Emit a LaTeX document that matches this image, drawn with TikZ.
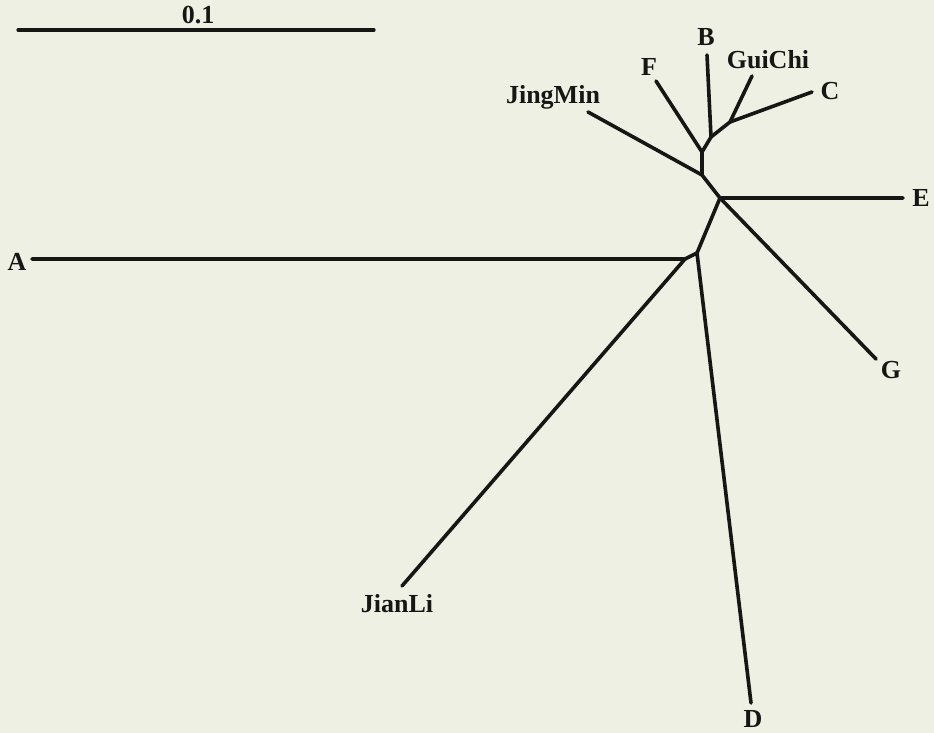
\documentclass[tikz,border=0pt]{standalone}
\usepackage{fontspec}
\setmainfont{Liberation Serif}
\usepackage{tikz}
\usepackage{xcolor}
\usetikzlibrary{calc}

\definecolor{paper}{RGB}{238,240,228}
\definecolor{ink}{RGB}{22,22,20}

\begin{document}
\begin{tikzpicture}[
    x=1pt, y=-1pt,
    branch/.style={
        draw=ink, 
        line width=3.6pt, 
        line cap=round, 
        line join=round
    },
    taxon/.style={
        text=ink, 
        inner sep=0pt, 
        font=\fontsize{26}{28}\selectfont\bfseries
    }
]

    % =========================================================
    % CANVAS
    % =========================================================
    \fill [paper] (0,0) rectangle (934,733);
    \useasboundingbox (0,0) rectangle (934,733);

    % =========================================================
    % SCALE BAR
    % =========================================================
    \coordinate (barL) at (18,30);
    \coordinate (barR) at (374,30);
    \draw [branch, line width=3.2pt] (barL) -- (barR);
    \node [taxon] (barlab) at (198,15) {0.1};

    % =========================================================
    % INTERNAL NODES
    % =========================================================
    \coordinate (nAJ) at (685,259);
    \coordinate (nD) at (697,253);
    \coordinate (nEG) at (720,198);
    \coordinate (nJM) at (702,175);
    \coordinate (nF) at (702,152);
    \coordinate (nB) at (711,137);
    \coordinate (nGC) at (730,122);

    % =========================================================
    % TIPS
    % =========================================================
    \coordinate (tA) at (32,259);
    \coordinate (tJianLi) at (402,586);
    \coordinate (tD) at (751,703);
    \coordinate (tG) at (876,359);
    \coordinate (tE) at (903,198);
    \coordinate (tJingMin) at (588,112);
    \coordinate (tF) at (656,81);
    \coordinate (tB) at (707,55);
    \coordinate (tGuiChi) at (752,76);
    \coordinate (tC) at (812,92);

    % =========================================================
    % LABELS
    % =========================================================
    \node [taxon] (labA) at (17,262) {A};
    \node [taxon] (labJianLi) at (397,604) {JianLi};
    \node [taxon] (labD) at (753,719) {D};
    \node [taxon] (labG) at (891,370) {G};
    \node [taxon] (labE) at (921,198) {E};
    \node [taxon] (labJingMin) at (553,97) {JingMin};
    \node [taxon] (labF) at (649,67) {F};
    \node [taxon] (labB) at (706,37) {B};
    \node [taxon] (labGuiChi) at (768,60) {GuiChi};
    \node [taxon] (labC) at (830,91) {C};

    % =========================================================
    % BRANCHES
    % =========================================================
    \draw [branch] (tA) -- (nAJ) -- (tJianLi);
    \draw [branch] (nAJ) -- (nD) -- (tD);
    \draw [branch] (nD) -- (nEG) -- (tE);
    \draw [branch] (nEG) -- (tG);
    \draw [branch] (nEG) -- (nJM) -- (tJingMin);
    \draw [branch] (nJM) -- (nF) -- (tF);
    \draw [branch] (nF) -- (nB) -- (tB);
    \draw [branch] (nB) -- (nGC) -- (tGuiChi);
    \draw [branch] (nGC) -- (tC);

\end{tikzpicture}
\end{document}
